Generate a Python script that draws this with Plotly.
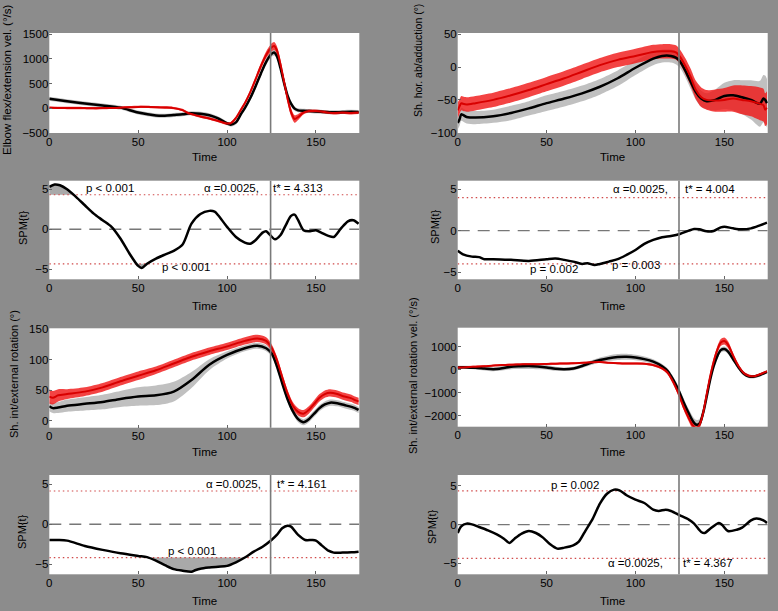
import plotly.graph_objects as go

W, H = 778, 611
FONT = "Liberation Sans, Arial, sans-serif"
BG = "#8c8c8c"

# ---------------- data ----------------
# Panel 1: Elbow flex/extension velocity
T1 = [0, 5, 10, 20, 30, 40, 50, 60, 65, 70, 75, 78, 80, 85, 90, 95, 100, 102, 105, 108, 110, 113, 116, 119, 122, 125, 126.5, 128, 130, 132, 134, 136, 138, 140, 143, 146, 150, 155, 160, 165, 170, 174]
E_black = [190, 165, 140, 95, 55, 10, -90, -150, -155, -140, -125, -110, -105, -115, -145, -210, -310, -335, -290, -110, 0, 200, 440, 700, 940, 1100, 1130, 1060, 820, 520, 260, 90, -10, -45, -55, -60, -70, -80, -85, -80, -75, -80]
E_black_sd = [40, 40, 40, 40, 40, 40, 40, 40, 40, 40, 40, 40, 40, 40, 40, 40, 40, 40, 40, 40, 45, 50, 55, 60, 60, 60, 60, 60, 60, 60, 55, 50, 45, 40, 40, 40, 40, 40, 40, 40, 40, 40]
E_red = [10, 5, 3, 0, 0, 10, 25, 20, 12, 0, -40, -100, -120, -170, -210, -260, -310, -310, -200, -20, 100, 320, 580, 850, 1080, 1230, 1260, 1180, 900, 550, 200, -80, -220, -180, -90, -60, -60, -80, -100, -90, -100, -90]
E_red_sd = [25, 25, 25, 25, 25, 25, 25, 25, 25, 25, 25, 25, 25, 25, 25, 25, 30, 30, 30, 30, 35, 40, 50, 60, 70, 80, 80, 80, 80, 80, 80, 80, 75, 60, 40, 30, 30, 30, 30, 30, 30, 30]

# Panel 2: Shoulder horizontal ab/adduction
T2 = [0, 1, 2, 3, 5, 10, 20, 30, 40, 50, 60, 70, 80, 90, 100, 110, 115, 120, 123, 125, 128, 131, 134, 137, 140, 145, 150, 155, 160, 165, 170, 172, 173, 174]
H_black = [-85, -80, -72, -73, -76, -77, -75, -70, -63, -55, -48, -40, -30, -17, -1, 13, 17, 17, 14, 9, -5, -22, -38, -48, -52, -50, -44, -43, -46, -50, -56, -48, -50, -55]
H_black_sd = [10, 10, 10, 10, 10, 10, 10, 11, 11, 12, 12, 12, 12, 12, 11, 10, 10, 10, 10, 10, 10, 11, 12, 12, 12, 16, 20, 23, 26, 30, 35, 36, 37, 37]
H_red = [-66, -60, -55, -56, -57, -55, -50, -43, -35, -26, -17, -7, 3, 11, 17, 23, 24, 24, 22, 16, 2, -15, -35, -46, -50, -51, -50, -48, -50, -52, -56, -58, -65, -62]
H_red_sd = [12, 11, 11, 11, 11, 11, 11, 11, 11, 11, 11, 11, 11, 11, 11, 11, 11, 11, 11, 11, 12, 13, 14, 15, 15, 17, 18, 20, 22, 23, 25, 25, 25, 25]

# Panel 5: Shoulder int/external rotation
T5 = [0, 2, 5, 10, 20, 30, 40, 50, 60, 70, 80, 90, 100, 110, 117, 122, 125, 128, 131, 134, 137, 140, 143, 146, 149, 152, 155, 158, 162, 166, 170, 172, 174]
R_black = [24, 21, 22, 25, 28, 31, 36, 40, 42, 48, 67, 92, 108, 119, 123, 119, 111, 90, 62, 36, 16, 3, -2, 3, 12, 21, 27, 30, 29, 26, 23, 21, 18]
R_black_sd = [8, 8, 9, 10, 11, 12, 13, 15, 16, 16, 13, 9, 6, 5, 5, 5, 5, 5, 5, 5, 5, 5, 5, 5, 5, 5, 5, 5, 5, 5, 5, 5, 5]
R_red = [40, 38, 42, 44, 48, 55, 65, 74, 83, 94, 105, 114, 122, 131, 135, 131, 120, 100, 72, 45, 25, 15, 12, 18, 28, 38, 44, 46, 44, 40, 37, 34, 32]
R_red_sd = [12, 11, 10, 8, 7, 7, 7, 7, 6, 6, 6, 6, 6, 6, 6, 6, 6, 6, 6, 6, 6, 6, 6, 6, 6, 6, 6, 6, 6, 6, 6, 6, 6]

# Panel 6: Shoulder int/external rotation velocity
T6 = [0, 5, 10, 15, 20, 25, 30, 35, 40, 45, 50, 55, 60, 65, 70, 75, 80, 85, 90, 95, 100, 105, 110, 115, 118, 121, 124, 127, 130, 132, 134, 136, 138, 140, 142, 144, 146, 148, 150, 152, 155, 158, 161, 164, 167, 170, 174]
V_black = [100, 100, 80, 50, 20, 60, 130, 150, 160, 140, 100, 40, 20, 50, 160, 300, 420, 500, 550, 560, 530, 460, 350, 150, -50, -400, -850, -1400, -1900, -2200, -2380, -2350, -1900, -1200, -450, 150, 580, 850, 900, 800, 450, 100, -180, -300, -300, -230, -90]
V_black_sd = [70, 70, 70, 80, 90, 100, 110, 120, 130, 120, 100, 90, 80, 80, 90, 100, 110, 120, 130, 130, 120, 110, 100, 100, 110, 130, 150, 170, 190, 200, 200, 200, 190, 170, 150, 130, 120, 110, 110, 110, 100, 90, 80, 70, 70, 70, 70]
V_red = [100, 110, 130, 150, 180, 200, 220, 230, 240, 240, 250, 260, 270, 280, 300, 320, 330, 300, 280, 270, 270, 260, 200, 60, -120, -500, -1000, -1600, -2100, -2400, -2550, -2400, -1900, -1100, -300, 350, 850, 1180, 1250, 1100, 600, 150, -150, -270, -280, -200, -70]
V_red_sd = [40, 40, 40, 40, 40, 40, 40, 40, 40, 40, 40, 40, 40, 40, 40, 40, 40, 40, 40, 40, 40, 40, 50, 60, 70, 90, 110, 130, 150, 150, 150, 150, 150, 150, 150, 150, 150, 150, 150, 150, 120, 90, 70, 60, 50, 50, 50]

# SPM{t} curves
T3 = [0, 3, 6, 10, 15, 20, 25, 30, 35, 40, 45, 50, 52, 55, 60, 65, 70, 75, 80, 85, 90, 93, 95, 100, 105, 110, 113, 116, 120, 122, 124, 127, 130, 133, 136, 138, 140, 143, 146, 150, 153, 157, 160, 164, 168, 171, 174]
Z3 = [5.3, 5.6, 5.5, 5.0, 4.05, 3.0, 1.96, 1.13, 0.3, -1.16, -3.0, -4.58, -4.83, -4.3, -3.66, -3.16, -2.7, -1.9, 0.7, 1.9, 2.3, 2.2, 1.75, 0.3, -0.96, -1.66, -1.8, -1.37, -0.42, -0.25, -0.67, -1.25, -0.75, 0.5, 1.67, 1.83, 1.13, -0.12, -0.25, -0.12, -0.42, -0.83, -0.96, 0.08, 1.0, 1.13, 0.7]
T4 = [0, 3, 8, 12, 15, 20, 30, 40, 50, 55, 60, 65, 70, 73, 77, 80, 85, 90, 95, 100, 105, 110, 115, 120, 125, 130, 133, 136, 140, 144, 148, 150, 155, 160, 165, 170, 174]
Z4 = [-2.42, -2.86, -3.14, -3.2, -3.45, -3.45, -3.53, -3.66, -3.45, -3.37, -3.53, -3.74, -4.02, -3.94, -4.15, -4.02, -3.74, -3.45, -2.93, -2.33, -1.6, -1.12, -0.8, -0.64, -0.4, 0.0, 0.2, 0.16, -0.08, -0.04, 0.4, 0.48, 0.28, 0.16, 0.28, 0.64, 0.97]
T7 = [0, 5, 10, 20, 30, 40, 50, 55, 60, 65, 70, 75, 80, 82, 85, 90, 95, 100, 105, 110, 115, 120, 125, 128, 131, 134, 136, 140, 144, 148, 150, 153, 157, 160, 165, 170, 174]
Z7 = [-1.96, -1.96, -2.04, -2.71, -3.2, -3.63, -3.95, -4.1, -4.55, -5.1, -5.6, -5.8, -5.92, -5.75, -5.55, -5.4, -5.3, -5.2, -4.75, -4.15, -3.42, -2.8, -1.96, -1.33, -0.5, -0.17, -0.29, -1.33, -1.96, -1.96, -2.04, -2.58, -3.3, -3.54, -3.54, -3.5, -3.42]
T8 = [0, 2, 5, 8, 12, 17, 22, 26, 29, 32, 36, 40, 44, 48, 52, 56, 60, 65, 68, 72, 76, 80, 84, 88, 91, 95, 100, 105, 110, 113, 117, 120, 125, 130, 133, 137, 139, 142, 147, 149, 152, 157, 160, 165, 168, 172, 174]
Z8 = [-1.08, -0.22, 0.13, 0.04, -0.3, -0.73, -1.25, -1.81, -2.37, -1.81, -1.16, -0.82, -1.08, -1.68, -2.54, -3.1, -2.97, -2.67, -2.24, -0.73, 0.78, 2.72, 4.0, 4.53, 4.44, 3.8, 3.23, 2.8, 1.94, 1.77, 1.94, 1.77, 1.2, 0.65, 0.13, -0.95, -1.08, -0.52, 0.22, -0.09, -0.82, -0.65, -0.39, 0.56, 0.78, 0.56, 0.22]

# thresholds and supra-threshold clusters (start, end, sign)
THR = {3: 4.313, 4: 4.004, 7: 4.161, 8: 4.367}
CLUSTERS = {3: [(0, 13.6, 1), (49.0, 54.9, -1)], 4: [], 7: [(56.5, 110.0, -1)], 8: [(85.8, 92.2, 1)]}

EVENT_T = 124.5
X_TICKS = [0, 50, 100, 150]

# text labels per SPM panel: (text, x, y)
SPM_TEXT = {
    3: [("p < 0.001", 34, 5.1), ("α =0.0025,", 102.6, 5.1), ("t* = 4.313", 140, 5.1), ("p < 0.001", 77, -4.7)],
    4: [("α =0.0025,", 102.6, 5.0), ("t* = 4.004", 142, 5.0), ("p = 0.002", 54, -4.6), ("p = 0.003", 100.4, -4.2)],
    7: [("α =0.0025,", 103.4, 5.0), ("t* = 4.161", 142, 5.0), ("p < 0.001", 80.5, -3.3)],
    8: [("p = 0.002", 66, 5.1), ("α =0.0025,", 100.2, -5.0), ("t* = 4.367", 140.6, -5.0)],
}

# ---------------- layout geometry (pixels) ----------------
COLS = {"L": (49.3, 359.3), "R": (457.7, 767.7)}
PANELS = {
    1: ("L", (33, 133), [-505, 1525], [-500, 0, 500, 1000, 1500]),
    2: ("R", (33, 133), [-100.5, 52], [-100, -50, 0, 50]),
    3: ("L", (180.7, 279.3), [-6.25, 6.07], [-5, 0, 5]),
    4: ("R", (180.7, 279.3), [-5.88, 6.04], [-5, 0, 5]),
    5: ("L", (328.3, 427.7), [-11, 151.6], [0, 50, 100, 150]),
    6: ("R", (327.7, 426.7), [-2478, 1826], [-2000, -1000, 0, 1000]),
    7: ("L", (475, 574.3), [-6.25, 6.16], [-5, 0, 5]),
    8: ("R", (475, 574.3), [-6.42, 6.42], [-5, 0, 5]),
}
TIME_Y = {33: 157, 180.7: 306, 328.3: 452, 327.7: 452, 475: 601}

fig = go.Figure()
layout = dict(
    template="none",
    width=W, height=H, margin=dict(l=0, r=0, t=0, b=0, pad=0, autoexpand=False),
    paper_bgcolor=BG, plot_bgcolor="white", showlegend=False,
    font=dict(family=FONT, size=11.5, color="black"),
    shapes=[], annotations=[],
)

def ax_name(i, kind):
    return kind + ("" if i == 1 else str(i))

for i, (col, (top, bot), yr, yt) in PANELS.items():
    x0, x1 = COLS[col]
    common = dict(ticks="inside", ticklen=3, tickcolor="#666", showgrid=False, zeroline=False,
                  showline=False, automargin=False,
                  tickfont=dict(size=11.5, family=FONT, color="black"))
    xa = dict(domain=[x0 / W, x1 / W], range=[0, 174.4], anchor=ax_name(i, "y"),
              tickvals=X_TICKS, **common)
    ya = dict(domain=[1 - bot / H, 1 - top / H], range=yr, anchor=ax_name(i, "x"),
              tickvals=yt, **common)
    layout["xaxis" + ("" if i == 1 else str(i))] = xa
    layout["yaxis" + ("" if i == 1 else str(i))] = ya
    layout["shapes"].append(dict(type="line", xref=ax_name(i, "x"), yref=ax_name(i, "y") + " domain",
                                 x0=EVENT_T, x1=EVENT_T, y0=0, y1=1,
                                 line=dict(color="#7a7a7a", width=1.6), layer="above"))
    layout["annotations"].append(dict(text="Time", xref="paper", yref="paper",
                                      x=((x0 + x1) / 2) / W, y=1 - TIME_Y[top] / H,
                                      showarrow=False, xanchor="center", yanchor="middle",
                                      font=dict(size=11.5, family=FONT)))


def band(i, t, m, sd, fillcolor):
    up = [a + b for a, b in zip(m, sd)]
    lo = [a - b for a, b in zip(m, sd)]
    xa, ya = ax_name(i, "x"), ax_name(i, "y")
    fig.add_trace(go.Scatter(x=t, y=up, mode="lines", line=dict(width=0, shape="spline", smoothing=0.8),
                             xaxis=xa, yaxis=ya, hoverinfo="skip"))
    fig.add_trace(go.Scatter(x=t, y=lo, mode="lines", line=dict(width=0, shape="spline", smoothing=0.8),
                             fill="tonexty", fillcolor=fillcolor, xaxis=xa, yaxis=ya, hoverinfo="skip"))


def line(i, t, m, color, width):
    fig.add_trace(go.Scatter(x=t, y=m, mode="lines", line=dict(color=color, width=width, shape="spline", smoothing=0.8),
                             xaxis=ax_name(i, "x"), yaxis=ax_name(i, "y"), hoverinfo="skip"))

GRAY_FILL = "rgba(150,150,150,0.6)"
RED_FILL = "rgba(240,20,20,0.8)"
for i, t, mb, sb, mr, sr in [
    (1, T1, E_black, E_black_sd, E_red, E_red_sd),
    (2, T2, H_black, H_black_sd, H_red, H_red_sd),
    (5, T5, R_black, R_black_sd, R_red, R_red_sd),
    (6, T6, V_black, V_black_sd, V_red, V_red_sd),
]:
    band(i, t, mb, sb, GRAY_FILL)
    band(i, t, mr, sr, RED_FILL)
    line(i, t, mb, "black", 2.5)
    line(i, t, mr, "#d80000", 2)

for i, t, z in [(3, T3, Z3), (4, T4, Z4), (7, T7, Z7), (8, T8, Z8)]:
    xa, ya = ax_name(i, "x"), ax_name(i, "y")
    thr = THR[i]
    for (a, b, s) in CLUSTERS[i]:
        pts = [(tt, zz) for tt, zz in zip(t, z) if a < tt < b]
        cx = [a] + [p[0] for p in pts] + [b]
        cy = [s * thr if a > t[0] else z[0]] + [p[1] for p in pts] + [s * thr]
        fig.add_trace(go.Scatter(x=[a, a, b], y=[s * thr, s * thr, s * thr], mode="lines", line=dict(width=0),
                                 xaxis=xa, yaxis=ya, hoverinfo="skip"))
        fig.add_trace(go.Scatter(x=cx, y=cy, mode="lines", line=dict(width=0, shape="spline", smoothing=0.8),
                                 fill="tonexty", fillcolor="rgba(160,160,160,0.9)",
                                 xaxis=xa, yaxis=ya, hoverinfo="skip"))
    fig.add_trace(go.Scatter(x=[0, 174.4], y=[0, 0], mode="lines",
                             line=dict(color="#777", width=1.4, dash="12px,8px"),
                             xaxis=xa, yaxis=ya, hoverinfo="skip"))
    for s in (1, -1):
        fig.add_trace(go.Scatter(x=[0, 174.4], y=[s * thr, s * thr], mode="lines",
                                 line=dict(color="#d04848", width=1.2, dash="1.5px,3px"),
                                 xaxis=xa, yaxis=ya, hoverinfo="skip"))
    line(i, t, z, "black", 2.5)
    for (txt, tx, tyv) in SPM_TEXT[i]:
        layout["annotations"].append(dict(text=txt, xref=xa, yref=ya, x=tx, y=tyv, showarrow=False,
                                          xanchor="center", yanchor="middle",
                                          font=dict(size=11.5, family=FONT, color="black")))

for txt, x, y, fs in [
    ("Elbow flex/extension vel. (°/s)", 7, 80, 11.5),
    ("Sh. hor. ab/adduction (°)", 418, 61, 10.5),
    ("SPM{t}", 23, 228, 11),
    ("SPM{t}", 435, 227, 11),
    ("Sh. int/external rotation (°)", 14, 374, 11),
    ("Sh. int/external rotation vel. (°/s)", 413, 376, 11),
    ("SPM{t}", 22, 532, 11),
    ("SPM{t}", 432, 527, 11),
]:
    layout["annotations"].append(dict(text=txt, xref="paper", yref="paper", x=x / W, y=1 - y / H,
                                      textangle=-90, showarrow=False, xanchor="center", yanchor="middle",
                                      font=dict(size=fs, family=FONT, color="black")))

fig.update_layout(**layout)
fig.write_html("out.html", config={"displayModeBar": False},
               post_script="document.body.style.margin='0px';document.body.style.background='%s';" % BG)
